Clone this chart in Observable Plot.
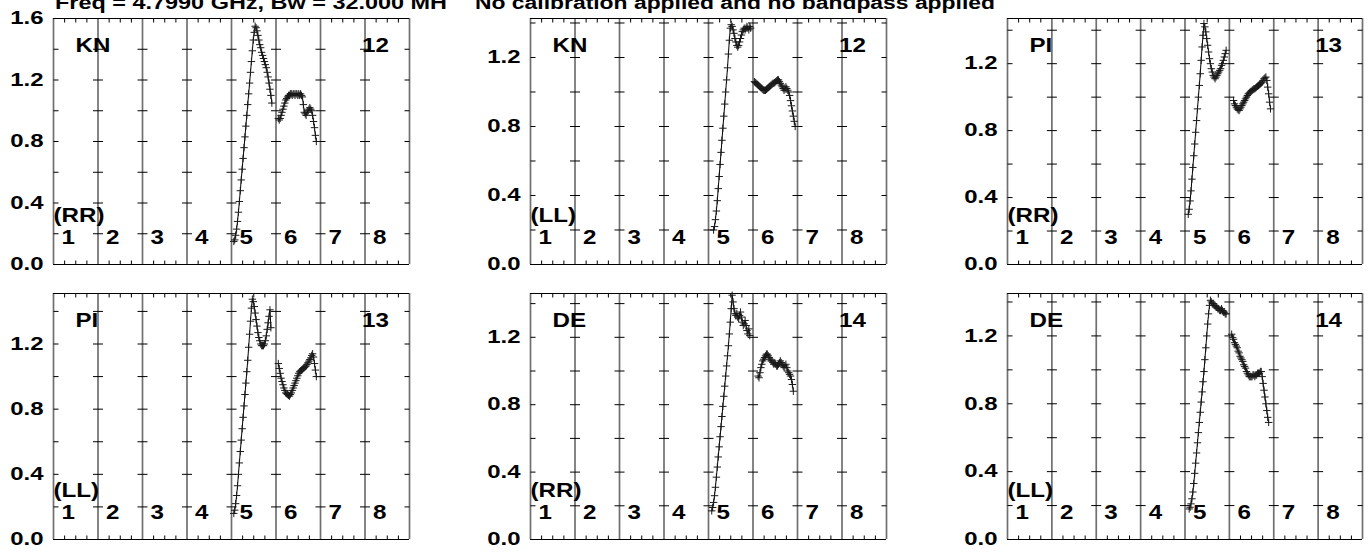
<!DOCTYPE html>
<html>
<head>
<meta charset="utf-8">
<script src="https://cdn.jsdelivr.net/npm/d3@7"></script>
<script src="https://cdn.jsdelivr.net/npm/@observablehq/plot@0.6"></script>
<style>
  html, body { margin: 0; padding: 0; background: #fff; }
  #page { position: relative; width: 1369px; height: 554px; overflow: hidden; background: #fff; }
  #page svg { position: absolute; left: 0; top: 0; }
</style>
</head>
<body>
<div id="page"></div>
<script>
// ---------------- data ----------------
const CHANNELS_PER_IF = 48;
const IF_NUMBERS = [1, 2, 3, 4, 5, 6, 7, 8];
const TITLE_LEFT = "Freq = 4.7990 GHz, Bw = 32.000 MH";
const TITLE_RIGHT = "No calibration applied and no bandpass applied";
const ANTENNAS = ["KN", "KN", "PI", "PI", "DE", "DE"];
const ANTENNA_NUMBERS = ["12", "12", "13", "13", "14", "14"];
const POLS = ["(RR)", "(LL)", "(RR)", "(LL)", "(RR)", "(LL)"];
const Y_TOPS = [1.6, 1.426, 1.47, 1.51, 1.46, 1.45];
const Y_LABEL_TICKS = [0, 0.4, 0.8, 1.2, 1.6];
const Y_MINOR_TICKS = [0.2, 0.4, 0.6, 0.8, 1.0, 1.2, 1.4];

// first channel of each series
const KN_RR_START = [3, 3];
const KN_LL_START = [6, 2];
const PI_RR_START = [4, 5];
const PI_LL_START = [3, 3];
const DE_RR_START = [4, 6];
const DE_LL_START = [5, 3];

const KN_RR_IF5 = [0.15, 0.16, 0.19, 0.23, 0.28, 0.34, 0.41, 0.48, 0.55, 0.62, 0.69, 0.76, 0.83, 0.90, 0.97, 1.04, 1.11, 1.18, 1.25, 1.32, 1.39, 1.46, 1.51, 1.55,
  1.54, 1.52, 1.49, 1.46, 1.43, 1.41, 1.38, 1.36, 1.34, 1.32, 1.30, 1.28, 1.25, 1.22, 1.18, 1.14, 1.10, 1.05];
const KN_RR_IF6 = [0.95, 0.94, 0.95, 0.97, 0.99, 1.01, 1.03, 1.05, 1.07, 1.08, 1.09, 1.10, 1.10, 1.11, 1.11, 1.10, 1.11, 1.11, 1.10, 1.11, 1.11, 1.10, 1.11, 1.10, 1.11, 1.10, 1.09,
  1.04, 0.99, 0.98, 0.97, 0.99, 1.00, 1.01, 1.02, 1.01, 1.00, 0.97, 0.93, 0.89, 0.84, 0.80];

const KN_LL_IF5 = [0.20, 0.22, 0.26, 0.31, 0.37, 0.44, 0.51, 0.58, 0.65, 0.72, 0.79, 0.86, 0.93, 1.00, 1.07, 1.14, 1.22, 1.30, 1.37,
  1.39, 1.38, 1.36, 1.34, 1.31, 1.29, 1.27, 1.26, 1.27, 1.29, 1.31, 1.33, 1.35, 1.36, 1.37, 1.36, 1.37, 1.38, 1.37, 1.36, 1.38, 1.37];
const KN_LL_IF6 = [1.06, 1.055, 1.05, 1.045, 1.04, 1.035, 1.03, 1.025, 1.02, 1.015, 1.01, 1.01, 1.01,
  1.015, 1.02, 1.025, 1.03, 1.035, 1.04, 1.045, 1.05, 1.05, 1.055, 1.06, 1.065, 1.07, 1.07,
  1.06, 1.05, 1.04, 1.03, 1.02, 1.01, 1.02, 1.03, 1.02, 1.01,
  1.00, 0.98, 0.95, 0.92, 0.89, 0.86, 0.83, 0.80];

const PI_RR_IF5 = [0.30, 0.33, 0.38, 0.44, 0.51, 0.58, 0.65, 0.72, 0.79, 0.86, 0.93, 1.00, 1.07, 1.14, 1.22, 1.30, 1.37, 1.44,
  1.42, 1.39, 1.35, 1.31, 1.27, 1.23, 1.20, 1.17, 1.15, 1.13, 1.12, 1.11,
  1.12, 1.13, 1.14, 1.15, 1.16, 1.17, 1.19, 1.20, 1.22, 1.24, 1.26, 1.28];
const PI_RR_IF6 = [0.98, 0.96, 0.95, 0.94, 0.93, 0.925, 0.92,
  0.93, 0.94, 0.95, 0.96, 0.97, 0.98, 0.99, 1.00, 1.01, 1.02, 1.025, 1.03, 1.035,
  1.04, 1.045, 1.05, 1.05, 1.055, 1.06, 1.065, 1.07, 1.075, 1.08, 1.085, 1.09, 1.10, 1.11, 1.115, 1.12,
  1.10, 1.06, 1.02, 0.97, 0.93];

const PI_LL_IF5 = [0.16, 0.18, 0.22, 0.27, 0.33, 0.40, 0.47, 0.54, 0.61, 0.68, 0.75, 0.82, 0.89, 0.96, 1.03, 1.10, 1.18, 1.26, 1.34, 1.42, 1.475,
  1.46, 1.43, 1.39, 1.35, 1.31, 1.27, 1.24, 1.22, 1.20, 1.19, 1.19, 1.19,
  1.20, 1.22, 1.25, 1.29, 1.33, 1.37, 1.41, 1.30];
const PI_LL_IF6 = [1.08, 1.05, 1.02, 0.99, 0.97, 0.95, 0.93, 0.915, 0.90, 0.895, 0.89, 0.885, 0.88,
  0.89, 0.90, 0.915, 0.93, 0.945, 0.96, 0.975, 0.99, 1.005, 1.02, 1.03,
  1.035, 1.04, 1.045, 1.05, 1.055, 1.06, 1.065,
  1.075, 1.085, 1.095, 1.105, 1.115, 1.13, 1.14,
  1.12, 1.08, 1.04, 1.00];

const DE_RR_IF5 = [0.17, 0.19, 0.22, 0.26, 0.31, 0.37, 0.43, 0.49, 0.55, 0.61, 0.67, 0.73, 0.79, 0.85, 0.91, 0.97, 1.03, 1.09, 1.15, 1.22, 1.29, 1.37, 1.45,
  1.41, 1.37, 1.34, 1.33, 1.34, 1.32, 1.31, 1.33, 1.35, 1.32, 1.29, 1.27, 1.28, 1.30, 1.27, 1.24, 1.22, 1.25, 1.21];
const DE_RR_IF6 = [0.97, 0.96, 0.99, 1.02, 1.04, 1.06, 1.07, 1.08, 1.09, 1.10, 1.10, 1.09, 1.08, 1.07, 1.06, 1.06, 1.05, 1.04, 1.05, 1.04,
  1.03, 1.03, 1.04, 1.05, 1.06, 1.05, 1.04, 1.03, 1.02, 1.03, 1.04, 1.02, 1.00, 0.99, 0.98, 0.97, 0.95, 0.92, 0.88];

const DE_LL_IF5 = [0.18, 0.19, 0.21, 0.24, 0.28, 0.33, 0.39, 0.45, 0.51, 0.57, 0.63, 0.69, 0.75, 0.81, 0.87, 0.93, 0.99, 1.06, 1.13, 1.20, 1.27, 1.33, 1.38, 1.41,
  1.40, 1.39, 1.39, 1.38, 1.38, 1.37, 1.37, 1.36, 1.36, 1.35, 1.35, 1.36, 1.35, 1.34, 1.34, 1.33, 1.33];
const DE_LL_IF6 = [1.21, 1.19, 1.18, 1.16, 1.15, 1.14, 1.13, 1.11, 1.10, 1.08, 1.07, 1.06, 1.05, 1.03, 1.02, 1.01, 0.99, 0.98, 0.97, 0.96, 0.96,
  0.96, 0.96, 0.97, 0.97, 0.96, 0.97, 0.97, 0.98, 0.98, 0.98, 0.99, 0.99,
  0.96, 0.92, 0.88, 0.84, 0.80, 0.76, 0.72, 0.69];

const PANEL_SERIES = [
  [[5, KN_RR_START[0], KN_RR_IF5], [6, KN_RR_START[1], KN_RR_IF6]],
  [[5, KN_LL_START[0], KN_LL_IF5], [6, KN_LL_START[1], KN_LL_IF6]],
  [[5, PI_RR_START[0], PI_RR_IF5], [6, PI_RR_START[1], PI_RR_IF6]],
  [[5, PI_LL_START[0], PI_LL_IF5], [6, PI_LL_START[1], PI_LL_IF6]],
  [[5, DE_RR_START[0], DE_RR_IF5], [6, DE_RR_START[1], DE_RR_IF6]],
  [[5, DE_LL_START[0], DE_LL_IF5], [6, DE_LL_START[1], DE_LL_IF6]]
];

// ---------------- layout ----------------
const W = 1369, H = 554;
const COLS = [[53, 409], [530, 886], [1007, 1362]];
const ROWS = [[18, 264], [293, 539]];
const FONT = '"Liberation Sans", Arial, Helvetica, sans-serif';
const TICK_STRETCH = 1.33;
const NOTE_STRETCH = 1.15;
const TITLES = [[TITLE_LEFT, 55, 392], [TITLE_RIGHT, 475, 520]];

function sym(fn) { return { draw(ctx, size) { fn(ctx, Math.sqrt(size / Math.PI)); } }; }
const PLUS = sym((c, r) => { c.moveTo(-r, 0); c.lineTo(r, 0); c.moveTo(0, -r); c.lineTo(0, r); });
const H_BOTH = sym((c, r) => { c.moveTo(-r, 0); c.lineTo(r, 0); });
const H_RIGHT = sym((c, r) => { c.moveTo(0, 0); c.lineTo(r, 0); });
const H_LEFT = sym((c, r) => { c.moveTo(-r, 0); c.lineTo(0, 0); });
const V_DOWN = sym((c, r) => { c.moveTo(0, 0); c.lineTo(0, r); });
const V_UP = sym((c, r) => { c.moveTo(0, -r); c.lineTo(0, 0); });

function stretch(svg, selector, sx) {
  svg.querySelectorAll(selector).forEach(t => {
    const tr = t.getAttribute("transform");
    if (tr) t.setAttribute("transform", tr + ` scale(${sx},1)`);
    else {
      const x = +(t.getAttribute("x") || 0), y = +(t.getAttribute("y") || 0);
      t.setAttribute("transform", `translate(${x},${y}) scale(${sx},1) translate(${-x},${-y})`);
    }
  });
}

const page = document.getElementById("page");
const N = CHANNELS_PER_IF;
const seps = d3.range(0, 9).map(k => k * N);
const innerSeps = seps.slice(1, 8);
const quarterTicks = d3.range(0, 8 * N + 1, N / 4).filter(x => x % N !== 0);

for (let p = 0; p < 6; p++) {
  const [left, right] = COLS[p % 3];
  const [top, bottom] = ROWS[Math.floor(p / 3)];
  const yTop = Y_TOPS[p];

  const points = [];
  for (const [ifn, start, values] of PANEL_SERIES[p]) {
    values.forEach((v, i) => points.push({ ifn, x: (ifn - 1) * N + start + i - 0.5, y: v }));
  }
  const minor = Y_MINOR_TICKS.filter(v => v < yTop - 0.01);
  const inner = innerSeps.flatMap(x => minor.map(y => ({ x, y })));
  const lefts = minor.map(y => ({ x: 0, y }));
  const rights = minor.map(y => ({ x: 8 * N, y }));

  const svg = Plot.plot({
    width: W, height: H,
    marginLeft: left, marginRight: W - right, marginTop: top, marginBottom: H - bottom,
    style: { background: "transparent", fontFamily: FONT, fontSize: "18px", fontWeight: "bold", color: "black", overflow: "visible" },
    x: { domain: [0, 8 * N], axis: null },
    y: { domain: [0, yTop], axis: null },
    marks: [
      Plot.ruleX(seps, { stroke: "#707070", strokeWidth: 1.7 }),
      Plot.ruleY([0, yTop], { stroke: "black", strokeWidth: 1 }),
      Plot.dot(inner, { x: "x", y: "y", symbol: H_BOTH, r: 5, stroke: "black", fill: "none", strokeWidth: 1 }),
      Plot.dot(lefts, { x: "x", y: "y", symbol: H_RIGHT, r: 5, stroke: "black", fill: "none", strokeWidth: 1 }),
      Plot.dot(rights, { x: "x", y: "y", symbol: H_LEFT, r: 5, stroke: "black", fill: "none", strokeWidth: 1 }),
      Plot.dot(quarterTicks, { x: d => d, y: () => yTop, symbol: V_DOWN, r: 4, stroke: "black", fill: "none", strokeWidth: 1 }),
      Plot.dot(quarterTicks, { x: d => d, y: () => 0, symbol: V_UP, r: 4, stroke: "black", fill: "none", strokeWidth: 1 }),
      Plot.line(points, { x: "x", y: "y", z: "ifn", stroke: "black", strokeWidth: 1 }),
      Plot.dot(points, { x: "x", y: "y", symbol: PLUS, r: 3.7, stroke: "#1a1a1a", fill: "none", strokeWidth: 1 }),
      Plot.axisY({ ticks: Y_LABEL_TICKS.filter(v => v <= yTop + 1e-6), tickFormat: d3.format(".1f"), tickSize: 0, tickPadding: 10, label: null, fontSize: 18 }),
      Plot.text([ANTENNAS[p]], { text: d => d, frameAnchor: "top-left", dx: 22, dy: 33, textAnchor: "start", lineAnchor: "bottom", fontSize: 21, className: "note" }),
      Plot.text([ANTENNA_NUMBERS[p]], { x: () => 7 * N, text: d => d, frameAnchor: "top", dx: -3, dy: 33, textAnchor: "start", lineAnchor: "bottom", fontSize: 21, className: "note" }),
      Plot.text([POLS[p]], { text: d => d, frameAnchor: "bottom-left", dx: 0, dy: -43, textAnchor: "start", lineAnchor: "bottom", fontSize: 21, className: "note" }),
      Plot.text(IF_NUMBERS, { x: d => (d - 1) * N, text: d => String(d), frameAnchor: "bottom", dx: 8, dy: -21, textAnchor: "start", lineAnchor: "bottom", fontSize: 21, className: "note" })
    ]
  });
  page.appendChild(svg);
  stretch(svg, ".note text", NOTE_STRETCH);
  stretch(svg, 'g[aria-label="y-axis tick label"] text', TICK_STRETCH);
}

// titles
const ns = "http://www.w3.org/2000/svg";
const tsvg = document.createElementNS(ns, "svg");
tsvg.setAttribute("width", W); tsvg.setAttribute("height", 30);
tsvg.style.overflow = "visible";
TITLES.forEach(([s, x, len]) => {
  const t = document.createElementNS(ns, "text");
  t.textContent = s;
  t.setAttribute("x", x); t.setAttribute("y", 9);
  t.setAttribute("font-family", FONT); t.setAttribute("font-size", 18); t.setAttribute("font-weight", "bold");
  t.setAttribute("textLength", len); t.setAttribute("lengthAdjust", "spacingAndGlyphs");
  tsvg.appendChild(t);
});
page.appendChild(tsvg);
</script>
</body>
</html>
